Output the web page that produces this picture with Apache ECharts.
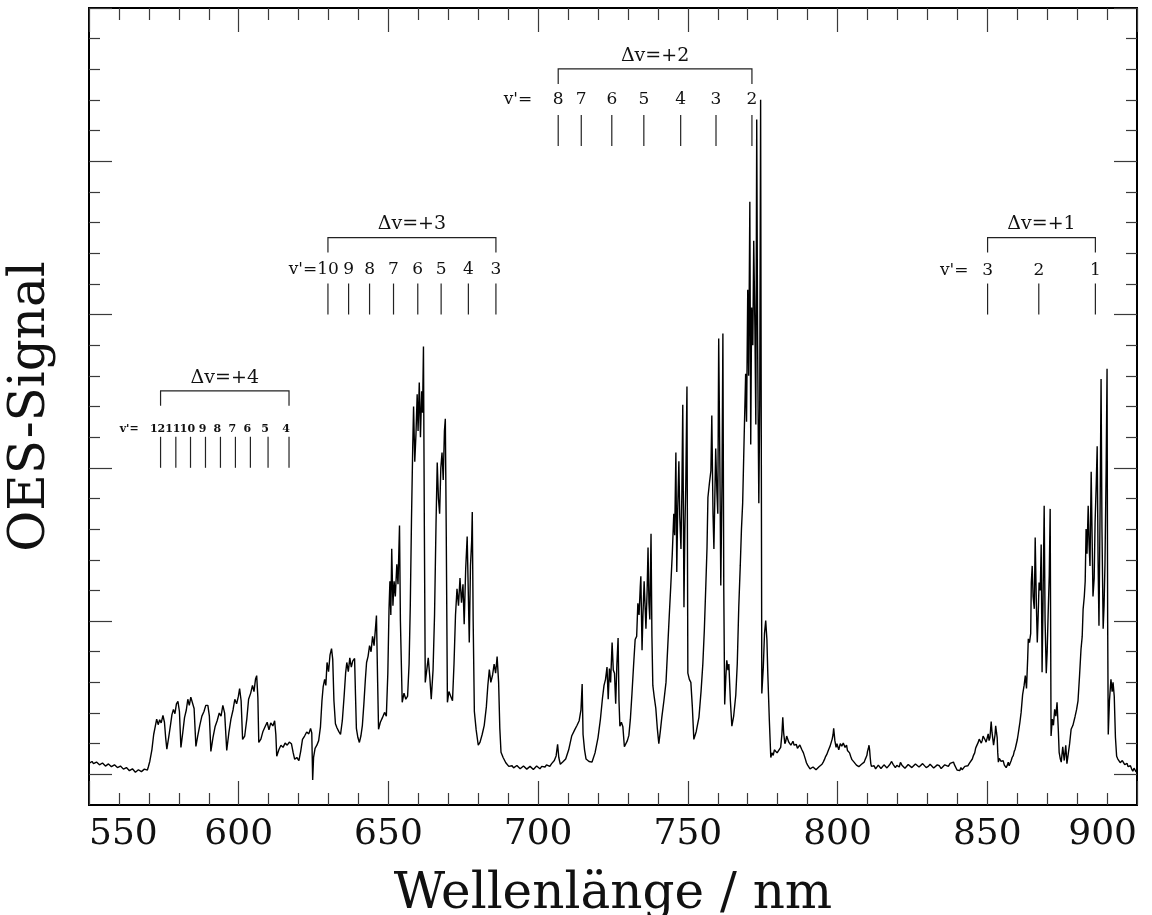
<!DOCTYPE html>
<html>
<head>
<meta charset="utf-8">
<script src="https://cdn.jsdelivr.net/npm/echarts@6/dist/echarts.min.js"></script>
<style>
  html, body { margin: 0; padding: 0; background: #fff; }
  #chart { width: 1152px; height: 915px; }
</style>
</head>
<body>
<div id="chart"></div>
<script>
// N2 first positive system emission spectrum: [wavelength nm, OES signal a.u.]
const spectrum = [
  [550.0,0.36],[550.5,0.30],[551.0,0.42],[551.5,0.35],[552.0,0.33],[552.5,0.40],[553.0,0.39],[553.5,0.31],
  [554.0,0.30],[554.5,0.37],[555.0,0.36],[555.5,0.27],[556.0,0.28],[556.5,0.34],[557.0,0.33],[557.5,0.25],
  [558.0,0.26],[558.5,0.31],[559.0,0.30],[559.5,0.22],[560.0,0.20],[560.5,0.27],[561.0,0.24],[561.5,0.17],
  [562.0,0.15],[562.5,0.22],[563.0,0.20],[563.5,0.12],[564.0,0.10],[564.5,0.18],[565.0,0.16],[565.5,0.07],
  [566.0,0.08],[566.5,0.15],[567.0,0.15],[567.5,0.09],[568.0,0.10],[568.5,0.17],[569.0,0.18],[569.5,0.14],
  [569.8,0.24],[570.3,0.42],[571.0,0.80],[571.6,1.30],
  [572.1,1.55],[572.6,1.80],[573.1,1.62],[573.6,1.78],[574.1,1.68],[574.7,1.92],[575.2,1.70],[575.6,1.20],
  [576.0,0.82],[576.6,1.20],[577.2,1.60],[577.7,1.95],[578.2,2.12],[578.7,1.98],[579.2,2.30],[579.7,2.38],
  [580.2,2.05],[580.7,0.88],[581.3,1.35],[581.9,1.85],[582.5,2.10],[583.0,2.45],[583.5,2.25],[584.0,2.52],
  [584.6,2.55],[585.1,2.15],[585.7,0.91],[586.3,1.25],[587.0,1.60],[587.7,1.90],[588.4,2.05],[589.0,2.25],
  [589.7,2.25],[590.2,1.90],[590.7,0.75],[591.4,1.20],[592.1,1.55],[592.8,1.75],[593.5,2.00],[594.1,1.90],
  [594.7,2.25],[595.3,2.00],[596.0,0.78],[596.7,1.35],[597.4,1.80],[598.1,2.10],[598.7,2.45],[599.3,2.30],
  [599.9,2.55],[600.3,2.80],[600.8,2.40],[601.3,1.14],[602.0,1.25],[602.7,1.80],[603.3,2.45],[604.0,2.65],
  [604.6,2.90],[605.1,2.70],[605.6,3.10],[606.0,3.22],[606.4,2.50],[606.7,1.04],[607.4,1.15],[608.1,1.40],
  [608.8,1.55],[609.5,1.70],[610.1,1.45],[610.7,1.68],[611.4,1.58],[612.0,1.75],[612.4,1.30],[612.7,0.59],
  [613.4,0.80],[614.1,0.95],[614.8,0.88],[615.5,1.02],[616.2,0.95],[616.9,1.05],[617.6,1.00],[618.2,0.70],
  [618.7,0.49],[619.4,0.55],[620.1,0.45],[620.7,0.75],[621.3,1.14],[622.0,1.25],[622.7,1.38],[623.4,1.32],
  [624.0,1.50],[624.4,1.35],[624.7,-0.18],[625.0,0.55],[625.5,0.85],[626.1,0.95],[626.7,1.10],[627.3,1.55],
  [627.8,2.40],[628.2,2.85],[628.7,3.10],[629.1,2.90],[629.5,3.65],[630.0,3.35],[630.5,3.90],[631.0,4.10],
  [631.4,3.75],[631.8,2.40],[632.3,1.65],[632.8,1.52],[633.4,1.40],[634.0,1.30],[634.6,1.75],[635.2,2.55],
  [635.7,3.30],[636.1,3.65],[636.6,3.35],[637.1,3.80],[637.6,3.50],[638.1,3.70],[638.7,3.78],[639.0,2.60],
  [639.3,1.50],[639.8,1.20],[640.3,1.04],[640.8,1.25],[641.3,1.60],[641.8,2.30],[642.3,3.10],[642.7,3.65],
  [643.2,3.85],[643.7,4.20],[644.2,4.00],[644.7,4.50],[645.2,4.20],[645.7,4.80],[646.0,5.18],[646.4,3.00],
  [646.7,1.47],[647.3,1.70],[648.0,1.85],[648.7,2.02],[649.3,1.90],[649.8,3.30],[650.2,5.40],[650.5,6.30],
  [650.8,5.20],[651.1,7.36],[651.5,5.50],[651.9,6.30],[652.3,5.80],[652.8,6.85],[653.2,6.20],[653.7,8.12],
  [654.0,5.00],[654.3,4.96],[654.6,2.35],[655.2,2.65],[655.8,2.45],[656.4,2.55],[656.9,3.60],[657.3,5.50],
  [657.7,8.30],[658.1,10.60],[658.4,12.00],[658.8,10.20],[659.2,11.10],[659.6,12.40],[659.9,11.20],[660.3,12.78],
  [660.7,11.00],[661.1,12.50],[661.4,11.80],[661.7,13.96],[662.0,8.00],[662.3,3.00],[662.8,3.05],[663.3,3.80],
  [663.8,3.20],[664.3,2.45],[664.9,3.40],[665.4,5.20],[665.9,8.20],[666.3,10.17],[666.7,9.00],[667.1,8.50],
  [667.5,10.00],[667.9,10.50],[668.3,9.60],[668.7,11.20],[669.0,11.60],[669.3,8.00],[669.7,2.35],[670.2,2.70],
  [670.8,2.55],[671.4,2.40],[671.9,3.60],[672.4,5.20],[672.9,6.05],[673.4,5.50],[673.9,6.40],[674.4,5.60],
  [674.9,6.20],[675.3,4.90],[675.8,6.70],[676.3,7.76],[676.7,5.80],[677.0,4.30],[677.4,6.80],[677.8,7.60],
  [678.0,8.56],[678.3,5.00],[678.7,2.05],[679.3,1.45],[680.0,0.95],[680.6,1.05],[681.3,1.30],[682.0,1.60],
  [682.7,2.20],[683.2,2.90],[683.7,3.42],[684.2,3.00],[684.8,3.25],[685.3,3.60],[685.8,3.30],[686.3,3.84],
  [686.8,3.00],[687.2,1.50],[687.6,0.72],[688.3,0.55],[689.2,0.38],
  [690.2,0.26],[690.7,0.20],[691.3,0.28],[691.8,0.21],[692.4,0.22],[692.9,0.29],[693.5,0.26],[694.0,0.18],
  [694.6,0.20],[695.1,0.27],[695.7,0.25],[696.2,0.17],[696.8,0.19],[697.3,0.26],[697.9,0.24],[698.4,0.16],
  [699.0,0.20],[699.5,0.27],[700.1,0.23],[700.6,0.18],[701.2,0.26],[701.7,0.21],[702.3,0.24],[702.8,0.31],
  [703.4,0.30],[703.9,0.26],[704.5,0.35],[705.0,0.38],[705.4,0.45],[706.0,0.60],[706.5,0.98],[706.9,0.55],
  [707.4,0.33],[708.2,0.40],[709.2,0.50],[710.2,0.80],[711.2,1.25],[712.2,1.45],[713.0,1.60],[713.7,1.75],
  [714.3,2.10],[714.7,2.95],[715.0,1.30],[715.5,0.80],[716.0,0.50],[717.0,0.42],[718.0,0.40],[719.0,0.70],
  [720.0,1.20],[720.8,1.80],[721.5,2.50],[722.0,2.90],[722.5,3.10],[723.0,3.50],[723.4,2.45],[723.8,3.45],
  [724.2,3.00],[724.7,4.30],[725.1,3.40],[725.5,3.30],[725.9,2.30],[726.3,3.60],[726.7,4.45],[727.0,2.40],
  [727.3,1.57],[727.8,1.70],[728.3,1.55],[728.8,0.90],[729.3,0.85],[729.8,1.10],[730.3,1.27],[730.8,1.80],
  [731.3,2.58],[731.9,3.60],[732.4,4.40],[732.9,4.50],[733.3,5.58],[733.7,5.20],[734.1,6.10],[734.3,6.46],
  [734.7,4.05],[735.0,5.20],[735.4,6.30],[735.7,6.33],[736.0,4.75],[736.4,6.00],[736.7,7.40],[737.0,5.60],
  [737.3,5.05],[737.5,6.50],[737.7,7.85],[738.0,4.50],[738.3,2.90],[738.8,2.50],[739.3,2.15],[739.8,1.50],
  [740.3,1.00],[740.8,1.40],[741.3,1.86],[742.0,2.40],[742.7,3.00],[743.3,4.20],[743.8,5.20],[744.3,6.16],
  [744.8,7.20],[745.3,8.50],[745.6,7.80],[746.0,10.50],[746.3,6.60],[746.6,8.60],[747.0,10.21],[747.3,8.40],
  [747.7,7.35],[748.0,9.20],[748.3,12.06],[748.7,5.45],[749.0,8.00],[749.3,9.40],[749.7,12.65],[750.0,3.30],
  [750.5,3.10],[751.0,3.00],[751.5,2.20],[752.0,1.14],[752.8,1.40],[753.7,1.86],[754.4,2.70],[755.0,3.60],
  [755.5,4.70],[756.0,6.16],[756.4,7.40],[756.7,9.03],[757.2,9.50],[757.7,9.91],[758.0,11.71],[758.4,8.50],
  [758.7,7.35],[759.0,9.00],[759.3,10.63],[759.7,9.20],[760.0,8.50],[760.3,14.22],[760.7,10.00],[761.0,6.16],
  [761.4,9.50],[761.7,14.38],[762.0,6.00],[762.3,2.28],[762.7,3.20],[763.0,3.72],[763.4,3.40],[763.7,3.60],
  [764.2,2.40],[764.7,1.57],[765.3,1.90],[766.0,2.58],[766.5,3.60],[767.0,5.45],[767.5,6.80],[767.9,8.00],
  [768.3,8.84],[768.8,11.00],[769.3,13.07],[769.6,11.50],[770.0,15.81],[770.3,13.00],[770.7,18.68],[771.0,10.76],
  [771.3,15.23],[771.7,14.00],[772.0,17.41],[772.4,14.50],[772.7,11.41],[773.0,21.36],[773.3,14.00],[773.7,8.84],
  [774.0,12.06],[774.3,22.01],[774.5,12.00],[774.7,2.64],[775.2,3.50],[775.6,4.60],[776.0,5.02],[776.4,4.40],
  [776.7,3.29],[777.2,1.80],[777.7,0.55],[778.1,0.70],[778.5,0.62],[778.9,0.80],[779.3,0.82],[779.8,0.70],
  [780.3,0.75],[781.0,0.88],[781.4,1.30],[781.7,1.86],[782.0,1.35],[782.4,1.00],[782.7,1.08],[783.0,1.25],
  [783.3,1.20],[783.7,1.05],[784.0,1.10],[784.4,0.95],[784.8,1.00],[785.1,1.08],[785.5,0.95],[785.9,0.90],
  [786.2,0.98],[786.6,0.85],[787.0,0.88],[787.4,0.96],[787.7,0.91],[788.0,0.82],[788.3,0.80],[788.6,0.70],
  [788.9,0.65],[789.3,0.48],[789.6,0.38],[790.0,0.30],[790.4,0.25],[790.8,0.18],[791.3,0.16],[791.8,0.24],
  [792.3,0.22],[792.8,0.15],[793.3,0.18],[793.8,0.25],[794.3,0.28],[794.8,0.33],[795.2,0.40],[795.6,0.48],
  [796.0,0.58],[796.4,0.65],[796.8,0.75],[797.2,0.85],[797.5,0.92],[797.9,1.05],[798.2,1.15],[798.5,1.30],
  [798.7,1.50],[799.1,1.10],[799.5,0.88],[799.8,1.00],[800.1,0.95],[800.4,0.80],[800.6,0.85],[800.9,1.00],
  [801.1,1.05],[801.4,0.92],[801.6,0.88],[801.9,1.02],[802.2,1.00],[802.5,0.88],[802.8,0.85],[803.0,0.95],
  [803.3,0.78],[803.7,0.72],[804.0,0.70],[804.4,0.58],[804.8,0.48],[805.1,0.45],[805.5,0.40],[805.9,0.35],
  [806.3,0.30],[806.7,0.28],[807.1,0.25],[807.5,0.30],[808.0,0.33],[808.4,0.30],[808.9,0.40],[809.2,0.48],
  [809.5,0.55],[809.8,0.62],[810.0,0.75],[810.3,0.85],[810.5,0.95],[810.7,0.80],[810.9,0.55],[811.1,0.35],
  [811.3,0.26],[811.8,0.20],[812.2,0.28],[812.7,0.18],[813.1,0.22],[813.6,0.30],[814.0,0.27],[814.5,0.19],
  [815.0,0.23],[815.5,0.31],[816.0,0.30],[816.5,0.21],[817.0,0.26],[817.5,0.33],[818.0,0.42],[818.6,0.32],
  [819.3,0.22],[819.8,0.29],[820.2,0.30],[820.6,0.24],[821.0,0.39],[821.5,0.30],[822.0,0.28],[822.5,0.20],
  [823.0,0.24],[823.6,0.32],[824.2,0.30],[824.8,0.22],[825.4,0.26],[826.0,0.34],[826.6,0.32],[827.2,0.24],
  [827.8,0.27],[828.4,0.35],[829.0,0.31],[829.6,0.22],[830.3,0.26],[830.9,0.33],[831.5,0.30],[832.1,0.21],
  [832.7,0.24],[833.3,0.31],[834.0,0.28],[834.6,0.19],[835.2,0.23],[835.8,0.31],[836.4,0.30],[837.0,0.26],
  [837.6,0.36],[838.2,0.33],[838.7,0.40],[839.1,0.30],[839.5,0.25],[839.9,0.14],[840.3,0.18],[840.8,0.12],
  [841.2,0.22],[841.6,0.15],[842.0,0.20],[842.5,0.26],[843.0,0.30],[843.5,0.28],[844.0,0.36],[844.5,0.42],
  [845.0,0.50],[845.4,0.62],[845.8,0.70],[846.1,0.85],[846.4,0.92],[846.7,0.98],[847.0,1.05],[847.3,1.15],
  [847.6,1.20],[848.0,1.02],[848.3,1.10],[848.6,1.25],[849.0,1.30],[849.3,1.12],[849.6,1.05],[850.0,1.20],
  [850.3,1.32],[850.6,1.10],[850.9,1.20],[851.3,1.72],[851.6,1.35],[851.8,1.20],[852.1,0.95],[852.3,1.00],
  [852.6,1.30],[852.8,1.58],[853.1,1.35],[853.3,1.20],[853.5,0.70],[853.7,0.40],[854.0,0.52],[854.3,0.55],
  [854.6,0.42],[855.0,0.38],[855.3,0.45],[855.7,0.30],[856.0,0.35],[856.3,0.22],[856.7,0.30],[857.0,0.40],
  [857.3,0.28],[857.7,0.30],[858.0,0.45],[858.3,0.55],[858.7,0.62],[859.0,0.75],[859.3,0.82],[859.6,0.95],
  [860.0,1.12],[860.3,1.30],[860.6,1.50],[860.9,1.70],[861.3,2.02],[861.8,2.60],[862.3,2.90],[862.7,3.22],
  [863.1,2.80],[863.5,3.80],[863.7,4.42],[864.1,4.30],[864.5,4.60],[864.7,6.26],[865.0,6.80],[865.3,5.80],
  [865.7,5.40],[866.0,7.73],[866.4,5.50],[866.7,4.30],[867.0,5.20],[867.3,6.26],[867.7,6.00],[868.0,7.50],
  [868.3,3.33],[868.6,5.50],[869.0,8.76],[869.3,5.00],[869.7,3.30],[870.0,4.00],[870.3,5.15],[870.7,6.50],
  [871.0,8.66],[871.3,1.25],[871.7,1.80],[872.1,1.60],[872.5,2.12],[872.9,1.90],[873.3,2.35],[873.7,1.50],
  [874.0,0.72],[874.4,0.50],[874.7,0.40],[875.2,0.90],[875.7,0.45],[876.2,0.95],[876.6,0.35],[877.0,0.40],
  [877.5,1.00],[878.0,1.47],[878.6,1.60],[879.3,1.88],[879.8,2.10],[880.3,2.40],[880.8,3.20],[881.3,4.08],
  [881.7,4.50],[882.0,5.38],[882.4,5.80],[882.7,6.30],[883.0,8.00],[883.3,7.20],[883.7,8.76],[884.0,7.50],
  [884.3,6.80],[884.7,9.87],[885.0,7.80],[885.3,5.80],[885.7,6.40],[886.0,8.22],[886.4,9.50],[886.7,10.70],
  [887.0,7.00],[887.3,4.85],[887.7,8.90],[888.0,12.90],[888.3,8.00],[888.7,4.75],[889.0,5.50],[889.3,6.85],
  [889.7,10.00],[890.0,13.23],[890.2,5.00],[890.4,1.30],[890.8,2.40],[891.3,3.10],[891.7,2.70],[892.0,3.00],
  [892.4,2.55],[892.8,1.20],[893.2,0.59],[893.6,0.50],[894.0,0.45],[894.4,0.38],[894.7,0.35],[895.1,0.45],
  [895.5,0.40],[895.9,0.32],[896.3,0.30],[896.7,0.36],[897.0,0.25],[897.4,0.31],[897.8,0.28],[898.2,0.18],
  [898.6,0.10],[899.0,0.20],[899.3,0.15],[899.7,0.08],[900.0,0.12]
];

// Band-head wavelengths (nm) of the sequences and their upper vibrational levels v'
const bandTitles = ['\u0394v=+4', '\u0394v=+3', '\u0394v=+2', '\u0394v=+1'];
const headsDv4 = [573.9, 579.0, 583.9, 588.9, 593.9, 598.9, 603.9, 609.8, 616.8];
const levelsDv4 = ['12', '11', '10', '9', '8', '7', '6', '5', '4'];
const headsDv3 = [629.8, 636.7, 643.7, 651.7, 659.8, 667.6, 676.7, 685.9];
const levelsDv3 = ['10', '9', '8', '7', '6', '5', '4', '3'];
const headsDv2 = [706.7, 714.4, 724.6, 735.3, 747.6, 759.4, 771.4];
const levelsDv2 = ['8', '7', '6', '5', '4', '3', '2'];
const headsDv1 = [850.1, 867.2, 886.1];
const levelsDv1 = ['3', '2', '1'];

// Tick values of the signal axis (no labels are drawn)
const yMajorTicks = [0, 5, 10, 15, 20, 25];
const yMinorTicks = [1, 2, 3, 4, 6, 7, 8, 9, 11, 12, 13, 14, 16, 17, 18, 19, 21, 22, 23, 24];

// Placement of each band-head marker group
const FONT = '"DejaVu Serif", "Liberation Serif", serif';
const markerLayout = [
  { heads: headsDv4, levels: levelsDv4, base: 10.0, prefixAt: 566.6, labelFont: 'bold 11px ', labelShift: -3, labelOff: 39 },
  { heads: headsDv3, levels: levelsDv3, base: 15.0, prefixAt: 626.2, labelFont: '17px ', labelShift: 0, labelOff: 45 },
  { heads: headsDv2, levels: levelsDv2, base: 20.5, prefixAt: 698.0, labelFont: '17px ', labelShift: 0, labelOff: 46 },
  { heads: headsDv1, levels: levelsDv1, base: 15.0, prefixAt: 843.7, labelFont: '17px ', labelShift: 0, labelOff: 44 }
];
const LINE_LEN = 31, BRACKET_END = 62, BRACKET_TOP = 77, TITLE_OFF = 90;
const INK = '#111';
const TICK = '#3a3a3a';

function renderMarkers(params, api) {
  const g = markerLayout[params.dataIndex];
  const baseY = api.coord([g.heads[0], g.base])[1];
  const xs = g.heads.map(h => api.coord([h, g.base])[0]);
  const xL = xs[0], xR = xs[xs.length - 1];
  const children = [];
  children.push({
    type: 'polyline',
    shape: { points: [[xL, baseY - BRACKET_END], [xL, baseY - BRACKET_TOP], [xR, baseY - BRACKET_TOP], [xR, baseY - BRACKET_END]] },
    style: { stroke: '#222', lineWidth: 1.2, fill: null }
  });
  xs.forEach((x, i) => {
    children.push({
      type: 'line',
      shape: { x1: x, y1: baseY, x2: x, y2: baseY - LINE_LEN },
      style: { stroke: '#222', lineWidth: 1.2 }
    });
    children.push({
      type: 'text',
      style: {
        text: g.levels[i], x: x + g.labelShift, y: baseY - g.labelOff,
        font: g.labelFont + FONT, fill: INK,
        align: 'center', verticalAlign: 'middle', textAlign: 'center', textVerticalAlign: 'middle'
      }
    });
  });
  const px = api.coord([g.prefixAt, g.base])[0];
  children.push({
    type: 'text',
    style: {
      text: "v'=", x: px, y: baseY - g.labelOff,
      font: g.labelFont + FONT, fill: INK,
      align: 'right', verticalAlign: 'middle', textAlign: 'right', textVerticalAlign: 'middle'
    }
  });
  children.push({
    type: 'text',
    style: {
      text: bandTitles[params.dataIndex], x: (xL + xR) / 2, y: baseY - TITLE_OFF,
      font: '19px ' + FONT, fill: INK,
      align: 'center', verticalAlign: 'middle', textAlign: 'center', textVerticalAlign: 'middle'
    }
  });
  return { type: 'group', children: children };
}

const frameLine = { show: true, onZero: false, lineStyle: { color: '#000', width: 2 } };

function yAxisDef(position, ticks, len, withName) {
  const ax = {
    type: 'value', min: -1, max: 25, position: position,
    axisLine: frameLine,
    axisTick: { show: true, inside: true, length: len, customValues: ticks, lineStyle: { color: TICK, width: 1.2 } },
    axisLabel: { show: false },
    splitLine: { show: false }
  };
  if (withName) {
    ax.name = 'OES-Signal';
    ax.nameLocation = 'middle';
    ax.nameGap = 33;
    ax.nameMoveOverlap = false;
    ax.nameTextStyle = { fontFamily: FONT, fontSize: 50, color: INK };
  }
  return ax;
}

const chart = echarts.init(document.getElementById('chart'), null, { renderer: 'canvas' });
chart.setOption({
  animation: false,
  backgroundColor: '#fff',
  grid: { left: 89, right: 15, top: 8, bottom: 110, containLabel: false, outerBoundsMode: 'none' },
  xAxis: [
    {
      type: 'value', min: 550, max: 900, interval: 50, position: 'bottom',
      axisLine: frameLine,
      axisTick: { inside: true, length: 24, lineStyle: { color: TICK, width: 1.2 } },
      minorTick: { show: true, splitNumber: 5, length: 12, lineStyle: { color: TICK, width: 1.2 } },
      splitLine: { show: false }, minorSplitLine: { show: false },
      axisLabel: { margin: 12, fontFamily: FONT, fontSize: 36, color: INK, alignMinLabel: 'left', alignMaxLabel: 'right', showMinLabel: true, showMaxLabel: true },
      name: 'Wellenl\u00e4nge / nm', nameLocation: 'middle', nameGap: 65, nameMoveOverlap: false,
      nameTextStyle: { fontFamily: FONT, fontSize: 50, color: INK }
    },
    {
      type: 'value', min: 550, max: 900, interval: 50, position: 'top',
      axisLine: frameLine,
      axisTick: { inside: true, length: 24, lineStyle: { color: TICK, width: 1.2 } },
      minorTick: { show: true, splitNumber: 5, length: 12, lineStyle: { color: TICK, width: 1.2 } },
      splitLine: { show: false }, minorSplitLine: { show: false },
      axisLabel: { show: false }
    }
  ],
  yAxis: [
    yAxisDef('left', yMajorTicks, 23, true),
    yAxisDef('left', yMinorTicks, 11, false),
    yAxisDef('right', yMajorTicks, 23, false),
    yAxisDef('right', yMinorTicks, 11, false)
  ],
  series: [
    {
      type: 'line', xAxisIndex: 0, yAxisIndex: 0,
      data: spectrum, showSymbol: false, symbol: 'none', sampling: null,
      lineStyle: { color: '#000', width: 1.4 }, silent: true, z: 3
    },
    {
      type: 'custom', xAxisIndex: 0, yAxisIndex: 0, silent: true, z: 4,
      data: markerLayout.map(g => [g.heads[0], g.base]),
      renderItem: renderMarkers
    }
  ]
});
</script>
</body>
</html>
